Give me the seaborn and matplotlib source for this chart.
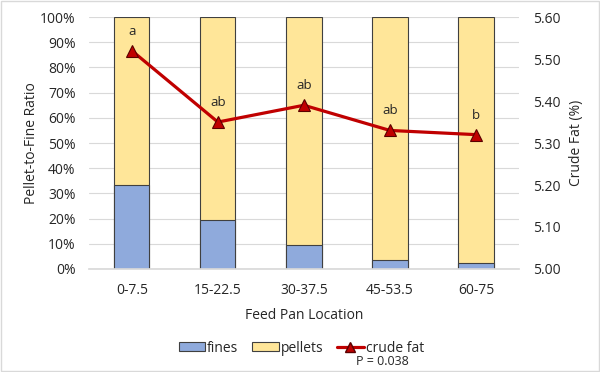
import numpy as np
import pandas as pd
import matplotlib
matplotlib.use("Agg")
import matplotlib.pyplot as plt
import seaborn as sns
from matplotlib.patches import Patch
from matplotlib.lines import Line2D

categories = ["0-7.5", "15-22.5", "30-37.5", "45-53.5", "60-75"]
fines = [0.333, 0.194, 0.095, 0.037, 0.022]
pellets = [1 - f for f in fines]
crude_fat = [5.52, 5.35, 5.39, 5.33, 5.32]
letters = ["a", "ab", "ab", "ab", "b"]

sns.set_theme(style="white")
plt.rcParams['font.family'] = ['Open Sans', 'DejaVu Sans']
TXT = "#262626"

df = pd.DataFrame({"loc": categories, "fines": fines, "pellets": pellets,
                   "total": [f + p for f, p in zip(fines, pellets)], "fat": crude_fat})

fig = plt.figure(figsize=(6, 3.72), dpi=100)
ax = fig.add_axes([0.148, 0.277, 0.717, 0.677])

blue = "#8faadc"
yellow = "#ffe699"
sns.barplot(data=df, x="loc", y="total", color=yellow, edgecolor="#404040",
            linewidth=0.8, width=0.41, ax=ax, saturation=1)
sns.barplot(data=df, x="loc", y="fines", color=blue, edgecolor="#404040",
            linewidth=0.8, width=0.41, ax=ax, saturation=1)

ax.set_ylim(0, 1)
ax.set_yticks(np.arange(0, 1.01, 0.1))
ax.set_yticklabels([f"{int(round(v*100))}%" for v in np.arange(0, 1.01, 0.1)], fontsize=10, color=TXT)
ax.set_xlim(-0.5, len(categories) - 0.5)
ax.tick_params(axis="x", labelsize=10, colors=TXT, length=0, pad=10)
ax.tick_params(axis="y", length=0, pad=9.5)
ax.grid(axis="y", color="#d9d9d9", linewidth=0.8)
ax.set_axisbelow(True)
for s in ax.spines.values():
    s.set_visible(False)
ax.spines["bottom"].set_visible(True)
ax.spines["bottom"].set_color("#d9d9d9")
ax.set_xlabel("Feed Pan Location", fontsize=10, color=TXT, labelpad=7)
ax.set_ylabel("Pellet-to-Fine Ratio", fontsize=10, color=TXT, labelpad=1)

ax2 = ax.twinx()
xs = np.arange(len(categories))
sns.lineplot(x=xs, y=crude_fat, ax=ax2, color="#c00000", linewidth=2.3, marker="^",
             markersize=9, markerfacecolor="#c00000", markeredgecolor="#5a0000",
             markeredgewidth=0.8)
ax2.set_ylim(5.0, 5.6)
ax2.set_yticks(np.arange(5.0, 5.61, 0.1))
ax2.set_yticklabels([f"{v:.2f}" for v in np.arange(5.0, 5.61, 0.1)], fontsize=10, color=TXT)
ax2.tick_params(axis="y", length=0, pad=10)
for s in ax2.spines.values():
    s.set_visible(False)
ax2.set_ylabel("Crude Fat (%)", fontsize=10, color=TXT, labelpad=6)
ax2.set_xlim(-0.5, len(categories) - 0.5)

for x, y, t in zip(xs, crude_fat, letters):
    ax2.annotate(t, (x, y), xytext=(0, 14), textcoords="offset points",
                 ha="center", va="center", fontsize=9.5, color=TXT)

handles = [Patch(facecolor=blue, edgecolor="#404040", linewidth=0.8, label="fines"),
           Patch(facecolor=yellow, edgecolor="#404040", linewidth=0.8, label="pellets"),
           Line2D([0], [0], color="#c00000", linewidth=2.3, marker="^", markersize=7,
                  markerfacecolor="#c00000", markeredgecolor="#5a0000", label="crude fat")]
fig.legend(handles=handles, loc="center", bbox_to_anchor=(0.502, 0.064), ncol=3,
           frameon=False, fontsize=10, handlelength=1.9, handleheight=0.6,
           handletextpad=0.15, columnspacing=1.0, labelcolor=TXT)
fig.text(0.637, 0.027, "P = 0.038", fontsize=9, color=TXT, ha="center", va="center")

fig.patches.append(plt.Rectangle((0.002, 0.003), 0.996, 0.994, transform=fig.transFigure,
                                 fill=False, edgecolor="#d9d9d9", linewidth=1))
fig.savefig("out.png", dpi=100)
